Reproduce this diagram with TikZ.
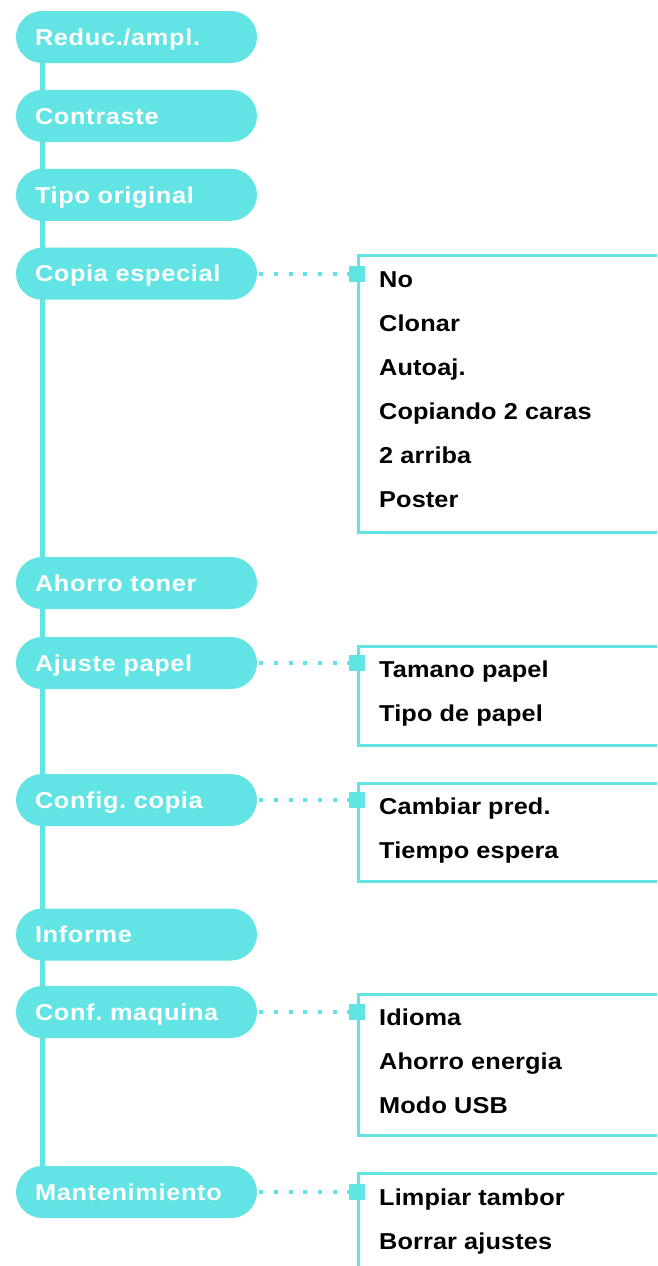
\documentclass[tikz,border=0pt]{standalone}
\usepackage{fontspec}
\setmainfont{Liberation Sans}
\newfontfamily\pillfont[FakeStretch=1.1,LetterSpace=3]{Liberation Sans}
\newfontfamily\itemfont[FakeStretch=1.1,LetterSpace=0.5]{Liberation Sans}
\frenchspacing
\usetikzlibrary{positioning,backgrounds}
\definecolor{menucyan}{RGB}{99,228,228}

\begin{document}
\begin{tikzpicture}[x=1pt,y=-1pt,node distance=26.5pt,
    pill/.style={rectangle,fill=menucyan,rounded corners=26pt,minimum width=241pt,minimum height=52pt,
      text width=203pt,inner xsep=19pt,inner ysep=0pt,text height=16.5pt,text depth=0pt,align=left,
      text=white,font=\pillfont\bfseries\fontsize{23}{27}\selectfont},
    menubox/.style={draw=menucyan,line width=2.7pt,minimum width=340pt,anchor=north west,inner sep=0pt},
    item/.style={anchor=base west,inner sep=0pt,font=\itemfont\bfseries\fontsize{23}{27}\selectfont},
    marker/.style={fill=menucyan,minimum size=16pt,inner sep=0pt},
    dots/.style={draw=menucyan,line width=4pt,dash pattern=on 4pt off 10.7pt,dash phase=12.7pt},
    trunk/.style={draw=menucyan,line width=5pt}]
    \clip (0,0) rectangle (657,1266);
    % main menu
    \node [pill] (reduc) at (136.5,37) {Reduc./ampl.};
    \node [pill] (contraste) [below=of reduc] {Contraste};
    \node [pill] (tipo) [below=of contraste] {Tipo original};
    \node [pill] (copia) [below=of tipo] {Copia especial};
    \node [pill] (toner) at (136.5,583) {Ahorro toner};
    \node [pill] (ajuste) at (136.5,663) {Ajuste papel};
    \node [pill] (config) at (136.5,800) {Config. copia};
    \node [pill] (informe) at (136.5,934.5) {Informe};
    \node [pill] (maquina) at (136.5,1012) {Conf. maquina};
    \node [pill] (mant) at (136.5,1192) {Mantenimiento};
    \begin{scope}[on background layer]
      \draw [trunk] ([xshift=26.5pt]reduc.west) -- ([xshift=26.5pt]mant.west);
    \end{scope}
    % submenus
    \node [menubox,minimum height=277pt] (copiabox) at (357,254) {};
    \node [menubox,minimum height=99pt] (ajustebox) at (357,645) {};
    \node [menubox,minimum height=98pt] (configbox) at (357,782) {};
    \node [menubox,minimum height=141pt] (maquinabox) at (357,993) {};
    \node [menubox,minimum height=200pt] (mantbox) at (357,1172) {};
    \foreach \txt [count=\i from 0] in {No,Clonar,Autoaj.,Copiando 2 caras,2 arriba,Poster}
      \node [item] (copia\i) at (379,287+44*\i) {\txt};
    \foreach \txt [count=\i from 0] in {Tamano papel,Tipo de papel}
      \node [item] (ajuste\i) at (379,677+44*\i) {\txt};
    \foreach \txt [count=\i from 0] in {Cambiar pred.,Tiempo espera}
      \node [item] (config\i) at (379,814+44*\i) {\txt};
    \foreach \txt [count=\i from 0] in {Idioma,Ahorro energia,Modo USB}
      \node [item] (maquina\i) at (379,1025+44*\i) {\txt};
    \foreach \txt [count=\i from 0] in {Limpiar tambor,Borrar ajustes}
      \node [item] (mant\i) at (379,1205+44*\i) {\txt};
    % connectors
    \foreach \m in {copia,ajuste,config,maquina,mant}{
      \node [marker] (\m mark) at (\m box.west |- \m.east) {};
      \draw [dots] (\m.east) -- (\m mark.west);
    }
\end{tikzpicture}
\end{document}
